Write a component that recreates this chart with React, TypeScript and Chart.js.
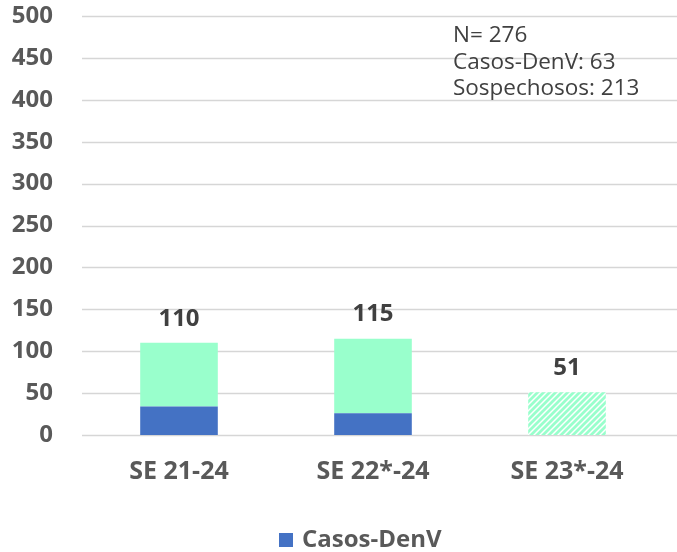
import React, { useEffect, useRef } from "react";
import { Chart, registerables } from "chart.js";

Chart.register(...registerables);

const categories = ["SE 21-24", "SE 22*-24", "SE 23*-24"];
const casosDenV = [34, 26, 0];
const sospechosos = [76, 89, 51];
const legendLabel = "Casos-DenV";
const noteLines = ["N= 276", "Casos-DenV: 63", "Sospechosos: 213"];

const BLUE = "#4472C4";
const GREEN = "#99FFCC";
const TEXT = "#595959";
const FONT = "'Open Sans', 'Noto Sans', sans-serif";

function makeHatch(): CanvasPattern | string {
  const s = 6;
  const c = document.createElement("canvas");
  c.width = s;
  c.height = s;
  const ctx = c.getContext("2d");
  if (!ctx) return GREEN;
  ctx.fillStyle = "#ffffff";
  ctx.fillRect(0, 0, s, s);
  ctx.strokeStyle = GREEN;
  ctx.lineWidth = 2.8;
  ctx.beginPath();
  ctx.moveTo(-1, s + 1);
  ctx.lineTo(s + 1, -1);
  ctx.moveTo(-s / 2 - 1, s / 2 + 1);
  ctx.lineTo(s / 2 + 1, -s / 2 - 1);
  ctx.moveTo(s / 2 - 1, s * 1.5 + 1);
  ctx.lineTo(s * 1.5 + 1, s / 2 - 1);
  ctx.stroke();
  const p = ctx.createPattern(c, "repeat");
  return p || GREEN;
}

const gridPlugin = {
  id: "extGrid",
  beforeDatasetsDraw(chart: any) {
    const { ctx, chartArea, scales } = chart;
    const y = scales.y;
    ctx.save();
    ctx.strokeStyle = "#d6d6d6";
    ctx.lineWidth = 1.5;
    y.ticks.forEach((t: any) => {
      const py = Math.round(y.getPixelForValue(t.value)) + 0.5;
      ctx.beginPath();
      ctx.moveTo(chartArea.left, py);
      ctx.lineTo(chart.width, py);
      ctx.stroke();
    });
    ctx.restore();
  },
};

const labelPlugin = {
  id: "totals",
  afterDatasetsDraw(chart: any) {
    const { ctx } = chart;
    const meta0 = chart.getDatasetMeta(0);
    const meta1 = chart.getDatasetMeta(1);
    ctx.save();
    ctx.fillStyle = "#404040";
    ctx.font = `bold 24px ${FONT}`;
    ctx.textAlign = "center";
    ctx.textBaseline = "middle";
    categories.forEach((_, i) => {
      const total = casosDenV[i] + sospechosos[i];
      const el = meta1.data[i] || meta0.data[i];
      const top = Math.min(el.y, meta0.data[i].y);
      ctx.fillText(String(total), el.x, top - 24);
    });
    ctx.font = `22.5px ${FONT}`;
    ctx.textAlign = "left";
    noteLines.forEach((line, i) => {
      ctx.fillText(line, 453, 36 + i * 26.5);
    });
    // legend (single visible item)
    const lx = 279;
    const ly = 540;
    ctx.fillStyle = BLUE;
    ctx.fillRect(lx, ly - 7, 14, 14);
    ctx.fillStyle = TEXT;
    ctx.font = `bold 24px ${FONT}`;
    ctx.fillText(legendLabel, lx + 23, ly);
    ctx.restore();
  },
};

export default function App() {
  const ref = useRef<HTMLCanvasElement | null>(null);
  useEffect(() => {
    if (!ref.current) return;
    const hatch = makeHatch();
    const chart = new Chart(ref.current, {
      type: "bar",
      data: {
        labels: categories,
        datasets: [
          {
            label: "Casos-DenV",
            data: casosDenV,
            backgroundColor: BLUE,
            categoryPercentage: 1,
            barPercentage: 0.4,
          },
          {
            label: "Sospechosos",
            data: sospechosos,
            backgroundColor: [GREEN, GREEN, hatch as any],
            categoryPercentage: 1,
            barPercentage: 0.4,
          },
        ],
      },
      options: {
        responsive: false,
        animation: false,
        layout: { padding: { top: 16, left: 0, right: 13, bottom: 0 } },
        plugins: {
          legend: { display: false },
          tooltip: { enabled: false },
        },
        scales: {
          x: {
            stacked: true,
            grid: { display: false },
            border: { display: false },
            ticks: {
              color: TEXT,
              padding: 14,
              font: { family: FONT, size: 25, weight: "bold" },
            },
            afterFit: (s: any) => {
              s.height = 117;
            },
          },
          y: {
            stacked: true,
            min: 0,
            max: 500,
            grid: { display: false, drawTicks: false },
            border: { display: false },
            ticks: {
              stepSize: 50,
              color: TEXT,
              padding: 29,
              font: { family: FONT, size: 24, weight: "bold" },
            },
            afterFit: (s: any) => {
              s.width = 82;
              s.paddingTop = 0;
              s.paddingBottom = 0;
            },
          },
        },
      },
      plugins: [gridPlugin, labelPlugin],
    });
    return () => chart.destroy();
  }, []);
  return (
    <div style={{ position: "fixed", left: 0, top: 0, width: 677, height: 552, background: "#fff" }}>
      <canvas ref={ref} width={677} height={552} style={{ width: 677, height: 552, display: "block" }} />
    </div>
  );
}
